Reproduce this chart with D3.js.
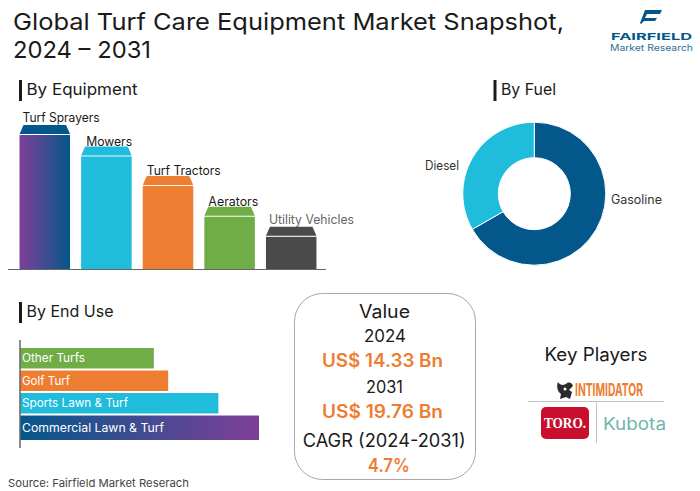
<!DOCTYPE html>
<html>
<head>
<meta charset="utf-8">
<script src="https://cdn.jsdelivr.net/npm/d3@7"></script>
<style>
  html, body { margin: 0; padding: 0; background: #fff; }
  svg { display: block; }
  text { font-family: Inter, "Open Sans", sans-serif; fill: #1a1a1a; }
</style>
</head>
<body>
<svg id="chart" width="700" height="491"></svg>
<script>
'use strict';

// values, relative to the tallest bar
var EQUIPMENT = ['Turf Sprayers', 'Mowers', 'Turf Tractors', 'Aerators', 'Utility Vehicles'];
var EQUIPMENT_VALUES = [100, 84, 62, 39, 24];
var EQUIPMENT_COLORS = ['url(#purpleBlue)', '#1fbcdc', '#ed7d31', '#70ad47', '#4a4a4a'];
var EQUIPMENT_CAPS = ['#04578a', '#1fbcdc', '#ed7d31', '#70ad47', '#4a4a4a'];

var FUELS = ['Gasoline', 'Diesel'];
var FUEL_VALUES = [66.7, 33.3];
var FUEL_COLORS = ['#04578a', '#1fbcdc'];

var END_USES = ['Other Turfs', 'Golf Turf', 'Sports Lawn & Turf', 'Commercial Lawn & Turf'];
var END_USE_VALUES = [56, 62, 83, 100];
var END_USE_COLORS = ['#70ad47', '#ed7d31', '#1fbcdc', 'url(#bluePurple)'];

var VALUE_LINES = ['Value', '2024', 'US$ 14.33 Bn', '2031', 'US$ 19.76 Bn', 'CAGR (2024-2031)', '4.7%'];

var svg = d3.select('#chart');
var defs = svg.append('defs');

addGradient('purpleBlue', '#7f3f98', '#04578a');
addGradient('bluePurple', '#04578a', '#7f3f98');

function addGradient(id, from, to) {
  var g = defs.append('linearGradient').attr('id', id);
  g.append('stop').attr('offset', '0%').attr('stop-color', from);
  g.append('stop').attr('offset', '100%').attr('stop-color', to);
}

function label(x, y, str, size, opts) {
  opts = opts || {};
  var t = svg.append('text')
    .attr('x', x)
    .attr('y', y)
    .attr('font-size', size)
    .attr('text-anchor', opts.anchor || 'start')
    .attr('font-weight', opts.weight || 400)
    .text(str);
  if (opts.fill) t.style('fill', opts.fill);
  if (opts.width) t.attr('textLength', opts.width).attr('lengthAdjust', 'spacingAndGlyphs');
  return t;
}

function heading(x, y, str, width) {
  svg.append('rect').attr('x', x).attr('y', y - 10).attr('width', 3).attr('height', 21).attr('fill', '#1a1a1a');
  label(x + 7.5, y + 5, str, 16.5, { width: width });
}

// title
label(13, 29.5, 'Global Turf Care Equipment Market Snapshot,', 23.5, { width: 551 });
label(13, 57.5, '2024 – 2031', 23.5, { width: 138 });

// --- By Equipment ---
heading(19, 90, 'By Equipment', 111);

var xEquip = d3.scaleBand().domain(EQUIPMENT).range([14, 322]).paddingInner(0.18).paddingOuter(0.09);
var yEquip = d3.scaleLinear().domain([0, 100]).range([269, 135]);
var CAP = 9;
var LABEL_GAP = [13.5, 10.5, 11, 11, 13];
var LABEL_SHIFT = [3, 5, 4, 4, 3];
var LABEL_WIDTH = [77, 46, 74, 50, 85];

var bars = svg.append('g').selectAll('g').data(EQUIPMENT).join('g');

bars.append('rect')
  .attr('x', function(d) { return xEquip(d); })
  .attr('y', function(d, i) { return yEquip(EQUIPMENT_VALUES[i]); })
  .attr('width', xEquip.bandwidth())
  .attr('height', function(d, i) { return yEquip(0) - yEquip(EQUIPMENT_VALUES[i]); })
  .attr('fill', function(d, i) { return EQUIPMENT_COLORS[i]; });

bars.append('path')
  .attr('d', function(d, i) {
    var x0 = xEquip(d), x1 = x0 + xEquip.bandwidth(), y = yEquip(EQUIPMENT_VALUES[i]) - 1;
    return 'M' + x0 + ',' + y + 'L' + (x0 + 4) + ',' + (y - CAP) + 'L' + (x1 - 4) + ',' + (y - CAP) + 'L' + x1 + ',' + y + 'Z';
  })
  .attr('fill', function(d, i) { return EQUIPMENT_CAPS[i]; });

bars.append('text')
  .attr('x', function(d, i) { return xEquip(d) + LABEL_SHIFT[i]; })
  .attr('y', function(d, i) { return yEquip(EQUIPMENT_VALUES[i]) - LABEL_GAP[i]; })
  .attr('font-size', 12.8)
  .attr('textLength', function(d, i) { return LABEL_WIDTH[i]; })
  .attr('lengthAdjust', 'spacingAndGlyphs')
  .style('fill', function(d, i) { return i === 4 ? '#666' : '#1a1a1a'; })
  .text(function(d) { return d; });

svg.append('line').attr('x1', 8).attr('x2', 326).attr('y1', 269.5).attr('y2', 269.5)
  .attr('stroke', '#666').attr('stroke-width', 1);

// --- By Fuel ---
heading(493.5, 90, 'By Fuel', 55);

var pie = d3.pie().sort(null);
var arc = d3.arc().innerRadius(36).outerRadius(71.5);

svg.append('g').attr('transform', 'translate(534.3,193.7)')
  .selectAll('path').data(pie(FUEL_VALUES)).join('path')
  .attr('d', arc)
  .attr('fill', function(d, i) { return FUEL_COLORS[i]; })
  .attr('stroke', '#fff')
  .attr('stroke-width', 1);

label(611, 203.5, FUELS[0], 12.8, { width: 51, fill: '#333' });
label(425, 170, FUELS[1], 12.8, { width: 34, fill: '#333' });

// --- By End Use ---
heading(19, 312, 'By End Use', 87);

var xUse = d3.scaleLinear().domain([0, 100]).range([20, 259]);
var yUse = d3.scaleBand().domain(END_USES).range([348, 436]).paddingInner(0.09);
var USE_WIDTHS = [63, 48, 106, 142];
var USE_EXTRA = [0, 0, 0, 4];

var useBars = svg.append('g').selectAll('g').data(END_USES).join('g');

useBars.append('rect')
  .attr('x', xUse(0))
  .attr('y', function(d) { return yUse(d); })
  .attr('width', function(d, i) { return xUse(END_USE_VALUES[i]) - xUse(0); })
  .attr('height', function(d, i) { return yUse.bandwidth() + USE_EXTRA[i]; })
  .attr('fill', function(d, i) { return END_USE_COLORS[i]; });

useBars.append('text')
  .attr('x', 22)
  .attr('y', function(d, i) { return yUse(d) + (yUse.bandwidth() + USE_EXTRA[i]) / 2 + 4; })
  .attr('font-size', 11.8)
  .attr('textLength', function(d, i) { return USE_WIDTHS[i]; })
  .attr('lengthAdjust', 'spacingAndGlyphs')
  .style('fill', '#fff')
  .text(function(d) { return d; });

svg.append('line').attr('x1', 20).attr('x2', 20).attr('y1', 340).attr('y2', 448)
  .attr('stroke', '#666').attr('stroke-width', 1.5);

label(8, 487, 'Source: Fairfield Market Reserach', 11, { width: 181, fill: '#444' });

// --- Value box ---
svg.append('rect').attr('x', 294.5).attr('y', 293.5).attr('width', 181).attr('height', 186).attr('rx', 28)
  .attr('fill', '#fff').attr('stroke', '#a8a8a8');

var VALUE_X = [384.5, 385, 382.5, 384.5, 382.5, 384.2, 388.8];
var VALUE_Y = [318, 342, 367, 392.5, 418, 447, 471.5];
var VALUE_SIZE = [18, 17, 18, 17, 18, 18, 18];
var VALUE_WIDTH = [51, 42, 121, 37, 121, 163, 42];

VALUE_LINES.forEach(function(str, i) {
  var isKey = i === 2 || i === 4 || i === 6;
  label(VALUE_X[i], VALUE_Y[i], str, VALUE_SIZE[i], {
    anchor: 'middle',
    weight: isKey ? 600 : 400,
    fill: isKey ? '#ed7d31' : '#1a1a1a',
    width: VALUE_WIDTH[i]
  });
});

// --- Key players ---
label(596, 361, 'Key Players', 18, { anchor: 'middle', width: 103 });

// Intimidator logo
svg.append('path')
  .attr('d', 'M558,382C556,387 558,392 561,394L560,399L566,397L570,399L572,392L569,390L573,386C572,383 569,381 566,384L563,385C561,385 559,384 558,382Z')
  .attr('fill', '#2b2b2b');
svg.append('circle').attr('cx', 565).attr('cy', 389).attr('r', 1.5).attr('fill', '#fff');
label(575, 396, 'INTIMIDATOR', 18, { weight: 700, fill: '#ed7d31', width: 68 });

svg.append('line').attr('x1', 528).attr('x2', 664).attr('y1', 401.5).attr('y2', 401.5).attr('stroke', '#c4c4c4');
svg.append('line').attr('x1', 596.5).attr('x2', 596.5).attr('y1', 402).attr('y2', 443).attr('stroke', '#c4c4c4');

// Toro logo
svg.append('rect').attr('x', 541).attr('y', 407).attr('width', 48).attr('height', 32).attr('rx', 5).attr('fill', '#c8102e');
svg.append('text').attr('x', 565).attr('y', 428).attr('text-anchor', 'middle')
  .attr('font-size', 15).attr('font-weight', 700)
  .attr('textLength', 42).attr('lengthAdjust', 'spacingAndGlyphs')
  .style('font-family', '"Liberation Serif", serif').style('fill', '#fff')
  .text('TORO.');

// Kubota logo
label(603, 429.5, 'Kubota', 17, { fill: '#6fb5ac', width: 63 });

// --- Fairfield logo ---
svg.append('path')
  .attr('d', 'M645,10L662,10L660,14L647,14L645,18L657,18L655,21L644,21L641,24L640,23Z')
  .attr('fill', '#04578a');
label(651.5, 39.5, 'FAIRFIELD', 9.5, { anchor: 'middle', weight: 700, fill: '#04578a', width: 81 });
label(651.5, 51, 'Market Research', 9, { anchor: 'middle', fill: '#2f6f97', width: 83 });
</script>
</body>
</html>
